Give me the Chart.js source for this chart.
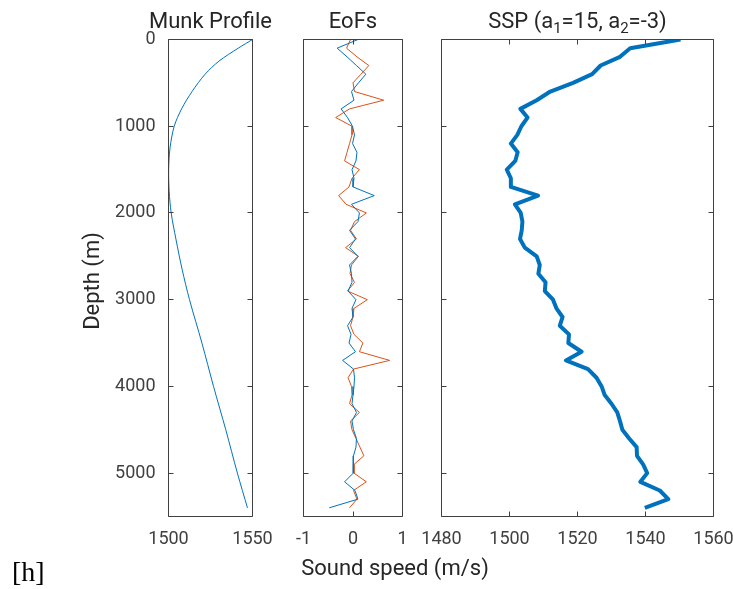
<!DOCTYPE html>
<html lang="en">
<head>
<meta charset="UTF-8" />
<title>Munk Profile, EoFs and SSP</title>
<script src="https://cdn.jsdelivr.net/npm/chart.js"></script>
<style>
  body { margin: 0; background: #fff; }
  #wrap { position: relative; width: 733px; height: 589px; }
  #wrap canvas { position: absolute; left: 0; top: 0; }
</style>
</head>
<body>
<div id="wrap">
  <canvas id="munk" width="733" height="589"></canvas>
  <canvas id="eofs" width="733" height="589"></canvas>
  <canvas id="ssp" width="733" height="589"></canvas>
</div>
<script>
// depth ticks shared by all three panels
const depthTicks = [0, 1000, 2000, 3000, 4000, 5000];
const munkTicks = [1500, 1550];
const eofTicks = [-1, 0, 1];
const sspTicks = [1480, 1500, 1520, 1540, 1560];

// Munk profile
const munkDepth = [0, 100, 250, 400, 600, 800, 1000, 1250, 1500, 1750, 2000, 2300, 2650, 3000, 3500, 4000, 4500, 5000, 5400];
const munkSpeed = [1550, 1541.5, 1530, 1521.8, 1514, 1507.8, 1503.4, 1500.9, 1500.1, 1500.4, 1501.6, 1504.4, 1508.1, 1512.5, 1519.9, 1526.8, 1534.1, 1541, 1547];

// sample depths for EoFs and SSP (every 100 m)
const depth = [0, 100, 200, 300, 400, 500, 600, 700, 800, 900,
  1000, 1100, 1200, 1300, 1400, 1500, 1600, 1700, 1800, 1900,
  2000, 2100, 2200, 2300, 2400, 2500, 2600, 2700, 2800, 2900,
  3000, 3100, 3200, 3300, 3400, 3500, 3600, 3700, 3800, 3900,
  4000, 4100, 4200, 4300, 4400, 4500, 4600, 4700, 4800, 4900,
  5000, 5100, 5200, 5300, 5400];

const eof1 = [0.10, -0.32, -0.12, 0.07, 0.26, 0.11, -0.03, 0.02, -0.24, -0.11,
  -0.01, 0.03, -0.01, 0.08, 0.06, -0.02, 0.02, 0.00, 0.43, -0.03,
  0.13, 0.10, -0.07, 0.05, -0.07, 0.10, -0.07, -0.03, -0.02, -0.10,
  0.06, -0.02, 0.00, -0.11, -0.04, -0.08, 0.05, -0.21, 0.01, 0.03,
  0.02, 0.00, -0.02, 0.07, -0.02, 0.01, 0.07, 0.06, 0.01, 0.00,
  0.01, -0.17, 0.04, 0.10, -0.48];

const eof2 = [-0.05, -0.13, 0.08, 0.32, 0.16, 0.00, 0.03, 0.62, -0.07, -0.35,
  -0.02, -0.02, -0.07, -0.12, -0.17, 0.13, -0.02, -0.08, -0.29, -0.14,
  0.27, 0.03, -0.05, 0.07, -0.15, 0.11, -0.03, -0.06, 0.03, -0.11,
  0.29, 0.02, 0.00, -0.05, 0.02, 0.20, 0.13, 0.74, 0.01, -0.10,
  -0.03, -0.02, -0.07, 0.13, -0.05, -0.02, 0.06, 0.14, 0.22, 0.02,
  0.02, 0.27, 0.01, 0.08, -0.07];

const ssp = [1550.3, 1535.5, 1532.5, 1526.8, 1524.3, 1518.7, 1512.0, 1508.0, 1503.2, 1505.3,
  1503.5, 1502.3, 1500.4, 1502.4, 1501.7, 1499.2, 1500.4, 1500.4, 1508.4, 1501.6,
  1503.3, 1503.8, 1503.6, 1503.1, 1504.5, 1508.0, 1508.9, 1508.5, 1510.6, 1510.4,
  1512.8, 1513.8, 1515.6, 1514.8, 1517.5, 1517.3, 1521.2, 1516.6, 1523.1, 1525.6,
  1527.1, 1528.0, 1530.0, 1531.7, 1532.5, 1533.2, 1535.2, 1537.4, 1537.5, 1539.3,
  1540.5, 1538.5, 1544.2, 1546.7, 1539.8];

const BLUE = '#0072BD';
const ORANGE = '#D95319';
const FONT = 'Roboto, "Noto Sans", sans-serif';
const TEXT = '#262626';
const AXIS = '#404040';
const tickFont = { family: 'Roboto', size: 18 };

function pts(xs, ys) {
  return xs.map((v, i) => ({ x: v, y: ys[i] }));
}

// draws a piece of text made of normal and subscript runs, centred on cx
function drawRich(ctx, parts, cx, baseline) {
  const fontOf = sub => (sub ? '15px ' : '22px ') + FONT;
  let total = 0;
  parts.forEach(([t, sub]) => { ctx.font = fontOf(sub); total += ctx.measureText(t).width; });
  let x = cx - total / 2;
  ctx.textAlign = 'left';
  ctx.textBaseline = 'alphabetic';
  parts.forEach(([t, sub]) => {
    ctx.font = fontOf(sub);
    ctx.fillText(t, x, baseline + (sub ? 5 : 0));
    x += ctx.measureText(t).width;
  });
}

// matlab style box with inward ticks on all four sides, plus panel texts
function framePlugin(xTicks, extra) {
  return {
    id: 'frame',
    afterDatasetsDraw(chart) {
      const { ctx, chartArea: a, scales } = chart;
      const len = 5;
      ctx.save();
      ctx.strokeStyle = AXIS;
      ctx.lineWidth = 1;
      ctx.beginPath();
      xTicks.forEach(v => {
        const px = Math.round(scales.x.getPixelForValue(v) - 0.5) + 0.5;
        ctx.moveTo(px, a.top); ctx.lineTo(px, a.top + len);
        ctx.moveTo(px, a.bottom); ctx.lineTo(px, a.bottom - len);
      });
      depthTicks.forEach(v => {
        const py = Math.round(scales.y.getPixelForValue(v) - 0.5) + 0.5;
        ctx.moveTo(a.left, py); ctx.lineTo(a.left + len, py);
        ctx.moveTo(a.right, py); ctx.lineTo(a.right - len, py);
      });
      ctx.rect(a.left, a.top, a.right - a.left, a.bottom - a.top);
      ctx.stroke();
      ctx.fillStyle = TEXT;
      extra(ctx, a);
      ctx.restore();
    }
  };
}

function panelOptions(box, xr, showY) {
  const yWidth = showY ? 60 : 0;
  return {
    responsive: false,
    animation: false,
    events: [],
    devicePixelRatio: 1,
    layout: {
      padding: { left: box.left - yWidth, right: 733 - box.right, top: box.top, bottom: 589 - box.bottom - 40 }
    },
    plugins: { legend: { display: false }, tooltip: { enabled: false } },
    elements: { point: { radius: 0 } },
    scales: {
      x: {
        type: 'linear', min: xr.min, max: xr.max,
        afterBuildTicks: s => { s.ticks = xr.ticks.map(v => ({ value: v })); },
        afterFit: s => { s.height = 40; s.paddingLeft = 0; s.paddingRight = 0; },
        grid: { drawOnChartArea: false, drawTicks: false },
        border: { display: false },
        ticks: { font: tickFont, color: AXIS, padding: 12, maxRotation: 0, minRotation: 0, autoSkip: false, callback: v => String(v) }
      },
      y: {
        type: 'linear', reverse: true, min: 0, max: 5500, display: showY,
        afterBuildTicks: s => { s.ticks = depthTicks.map(v => ({ value: v })); },
        afterFit: s => { s.width = yWidth; s.paddingTop = 0; s.paddingBottom = 0; },
        grid: { drawOnChartArea: false, drawTicks: false },
        border: { display: false },
        ticks: { font: tickFont, color: AXIS, padding: 13, callback: v => String(v) }
      }
    }
  };
}

const plotTop = 39.5, plotBottom = 516.5;

new Chart(document.getElementById('munk'), {
  type: 'scatter',
  data: {
    datasets: [{ data: pts(munkSpeed, munkDepth), showLine: true, borderColor: BLUE, borderWidth: 1, tension: 0.3 }]
  },
  options: panelOptions({ left: 168.5, right: 252.5, top: plotTop, bottom: plotBottom }, { min: 1500, max: 1550, ticks: munkTicks }, true),
  plugins: [framePlugin(munkTicks, (ctx, a) => {
    drawRich(ctx, [['Munk Profile', false]], (a.left + a.right) / 2, 28);
    ctx.save();
    ctx.translate(99, 281);
    ctx.rotate(-Math.PI / 2);
    ctx.font = '22px ' + FONT;
    ctx.textAlign = 'center';
    ctx.fillText('Depth (m)', 0, 0);
    ctx.restore();
    ctx.font = '28px "Liberation Serif", serif';
    ctx.textAlign = 'left';
    ctx.fillStyle = '#000';
    ctx.fillText('[h]', 12, 581);
  })]
});

new Chart(document.getElementById('eofs'), {
  type: 'scatter',
  data: {
    datasets: [
      { data: pts(eof1, depth), showLine: true, borderColor: BLUE, borderWidth: 1, tension: 0 },
      { data: pts(eof2, depth), showLine: true, borderColor: ORANGE, borderWidth: 1, tension: 0 }
    ]
  },
  options: panelOptions({ left: 303.5, right: 402.5, top: plotTop, bottom: plotBottom }, { min: -1, max: 1, ticks: eofTicks }, false),
  plugins: [framePlugin(eofTicks, (ctx, a) => {
    drawRich(ctx, [['EoFs', false]], (a.left + a.right) / 2, 28);
    drawRich(ctx, [['Sound speed (m/s)', false]], 395, 575);
  })]
});

new Chart(document.getElementById('ssp'), {
  type: 'scatter',
  data: {
    datasets: [{ data: pts(ssp, depth), showLine: true, borderColor: BLUE, borderWidth: 4, borderJoinStyle: 'round', tension: 0 }]
  },
  options: panelOptions({ left: 441.5, right: 713.5, top: plotTop, bottom: plotBottom }, { min: 1480, max: 1560, ticks: sspTicks }, false),
  plugins: [framePlugin(sspTicks, (ctx, a) => {
    drawRich(ctx, [['SSP (a', false], ['1', true], ['=15, a', false], ['2', true], ['=-3)', false]], (a.left + a.right) / 2, 28);
  })]
});
</script>
</body>
</html>
